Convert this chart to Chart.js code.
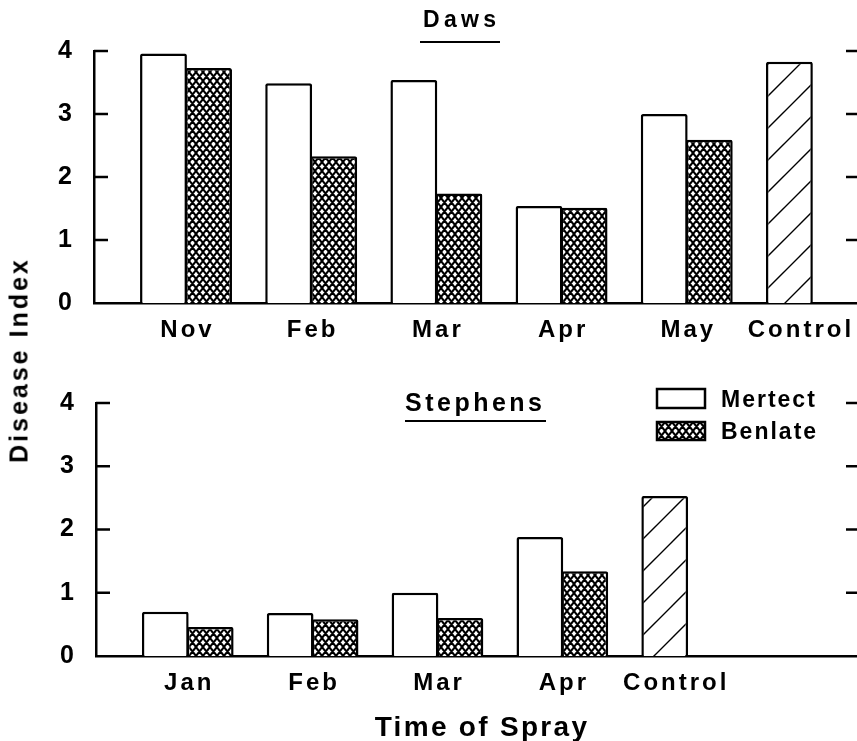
<!DOCTYPE html>
<html>
<head>
<meta charset="utf-8">
<script src="https://cdn.jsdelivr.net/npm/chart.js@4"></script>
<style>
  body { margin: 0; width: 857px; height: 741px; overflow: hidden; background: #fff; position: relative; font-family: "Liberation Sans", Arial, sans-serif; font-weight: bold; color: #000; }
  canvas { position: absolute; left: 0; }
  #chart-daws { top: 0; }
  #chart-stephens { top: 350px; }
  .title { position: absolute; white-space: nowrap; border-bottom: 2.5px solid #000; }
  #title-daws { left: 420px; top: 8px; font-size: 23px; line-height: 23px; letter-spacing: 4.3px; padding: 0 0 10px 3px; }
  #title-stephens { left: 405px; top: 390px; font-size: 25px; line-height: 25px; letter-spacing: 3.5px; padding: 0 0 5px 0; }
  #axis-y { position: absolute; left: 19px; top: 360px; font-size: 25px; line-height: 25px; letter-spacing: 3px; white-space: nowrap; transform: translate(-50%, -50%) rotate(-90deg); }
  #axis-x { position: absolute; left: 482px; top: 713px; font-size: 28px; line-height: 28px; letter-spacing: 2.3px; white-space: nowrap; transform: translateX(-50%); }
</style>
</head>
<body>
<canvas id="chart-daws" width="857" height="350"></canvas>
<canvas id="chart-stephens" width="857" height="391"></canvas>
<div class="title" id="title-daws">Daws</div>
<div class="title" id="title-stephens">Stephens</div>
<div id="axis-y">Disease Index</div>
<div id="axis-x">Time of Spray</div>
<script>
// Daws
const dawsMonths = ["Nov", "Feb", "Mar", "Apr", "May", "Control"];
const dawsMertect = [3.96, 3.49, 3.54, 1.54, 3.0];
const dawsBenlate = [3.73, 2.33, 1.74, 1.51, 2.59];
const dawsControl = [3.83];

// Stephens
const stephensMonths = ["Jan", "Feb", "Mar", "Apr", "Control"];
const stephensMertect = [0.70, 0.68, 1.0, 1.88];
const stephensBenlate = [0.46, 0.58, 0.60, 1.34];
const stephensControl = [2.53];

const yTicks = [0, 1, 2, 3, 4];
const legendLabels = ["Mertect", "Benlate"];

// diamond mesh used for Benlate
function crossPattern() {
  const w = 7, h = 9;
  const c = document.createElement("canvas");
  c.width = w; c.height = h;
  const g = c.getContext("2d");
  g.fillStyle = "#fff";
  g.fillRect(0, 0, w, h);
  g.strokeStyle = "#000";
  g.lineWidth = 2;
  g.beginPath();
  for (const dx of [-w, 0, w]) {
    g.moveTo(dx - w, -h); g.lineTo(dx + 2 * w, 2 * h);
    g.moveTo(dx + 2 * w, -h); g.lineTo(dx - w, 2 * h);
  }
  g.stroke();
  return g.createPattern(c, "repeat");
}

// single diagonal hatch used for the control
function hatchPattern() {
  const c = document.createElement("canvas");
  c.width = 32; c.height = 32;
  const g = c.getContext("2d");
  g.fillStyle = "#fff";
  g.fillRect(0, 0, 32, 32);
  g.strokeStyle = "#000";
  g.lineWidth = 1.4;
  g.beginPath();
  for (const off of [-32, 0, 32]) {
    g.moveTo(-4 + off, 36); g.lineTo(36 + off, -4);
  }
  g.stroke();
  return g.createPattern(c, "repeat");
}

const CROSS = crossPattern();
const HATCH = hatchPattern();
const FONT = '"Liberation Sans", Arial, sans-serif';

function line(ctx, x1, y1, x2, y2) {
  ctx.beginPath(); ctx.moveTo(x1, y1); ctx.lineTo(x2, y2); ctx.stroke();
}

// inward ticks, right-hand ticks, category labels and legend
const decorPlugin = {
  id: "decor",
  afterDraw(chart, args, opts) {
    const { ctx, chartArea, scales: { x, y } } = chart;
    ctx.save();
    ctx.strokeStyle = "#000";
    ctx.lineWidth = 2.5;
    yTicks.forEach(v => {
      if (v === 0) return;
      const py = y.getPixelForValue(v);
      line(ctx, chartArea.left, py, chartArea.left + 14, py);
      line(ctx, chartArea.right - 11, py, chartArea.right + 2, py);
    });

    ctx.fillStyle = "#000";
    ctx.font = "bold 24px " + FONT;
    ctx.letterSpacing = "3px";
    ctx.textAlign = "center";
    ctx.textBaseline = "alphabetic";
    opts.labels.forEach((lab, i) => {
      const shift = i === opts.labels.length - 1 ? -0.1 : 0;
      ctx.fillText(lab, x.getPixelForValue(i + shift) + 1.5, opts.labelY);
    });

    if (opts.legend) {
      const boxes = [[657, 39, 48, 19], [657, 72, 48, 18]];
      ctx.font = "bold 23px " + FONT;
      ctx.letterSpacing = "2px";
      ctx.textAlign = "left";
      chart.data.datasets.forEach((ds, i) => {
        const [bx, by, bw, bh] = boxes[i];
        ctx.fillStyle = Array.isArray(ds.backgroundColor) ? ds.backgroundColor[0] : ds.backgroundColor;
        ctx.fillRect(bx, by, bw, bh);
        ctx.strokeRect(bx, by, bw, bh);
        ctx.fillStyle = "#000";
        ctx.fillText(legendLabels[i], 721, by + bh - 1);
      });
    }
    ctx.restore();
  }
};

function makeChart(id, months, mertect, benlate, control, opts) {
  const canvas = document.getElementById(id);
  const n = months.length;
  const mertectData = mertect.concat(control).map((v, i) => ({ x: i, y: v }));
  const benlateData = benlate.map((v, i) => ({ x: i, y: v }));

  return new Chart(canvas, {
    type: "bar",
    data: {
      datasets: [
        {
          label: legendLabels[0],
          data: mertectData,
          backgroundColor: months.map((m, i) => i === n - 1 ? HATCH : "#fff"),
          borderColor: "#000",
          borderWidth: 2.5,
          borderRadius: 2,
          borderSkipped: "start"
        },
        {
          label: legendLabels[1],
          data: benlateData,
          backgroundColor: CROSS,
          borderColor: "#000",
          borderWidth: 2.5,
          borderRadius: 2,
          borderSkipped: "start"
        }
      ]
    },
    options: {
      responsive: false,
      animation: false,
      events: [],
      categoryPercentage: 0.72,
      barPercentage: 1.04,
      layout: { padding: { top: opts.top, left: 0, right: 0, bottom: 0 } },
      plugins: {
        legend: { display: false },
        tooltip: { enabled: false },
        decor: { labels: months, labelY: opts.labelY, legend: opts.legend }
      },
      scales: {
        x: {
          type: "linear",
          offset: false,
          min: -0.735,
          max: 5.36,
          ticks: { display: false, stepSize: 1, includeBounds: false },
          grid: { display: false, offset: false },
          border: { color: "#000", width: 2.5 },
          afterFit: s => { s.height = canvas.height - opts.baseline; s.paddingLeft = 0; s.paddingRight = 0; }
        },
        y: {
          min: 0,
          max: 4,
          ticks: { stepSize: 1, color: "#000", padding: 14, font: { family: FONT, size: 25, weight: "bold" } },
          grid: { display: false },
          border: { color: "#000", width: 2.5 },
          afterFit: s => { s.width = opts.axisLeft; s.paddingTop = 0; s.paddingBottom = 0; }
        }
      }
    },
    plugins: [decorPlugin]
  });
}

makeChart("chart-daws", dawsMonths, dawsMertect, dawsBenlate, dawsControl,
  { top: 51, baseline: 303, axisLeft: 94, labelY: 337, legend: false });
makeChart("chart-stephens", stephensMonths, stephensMertect, stephensBenlate, stephensControl,
  { top: 53, baseline: 306, axisLeft: 96, labelY: 340, legend: true });
</script>
</body>
</html>
